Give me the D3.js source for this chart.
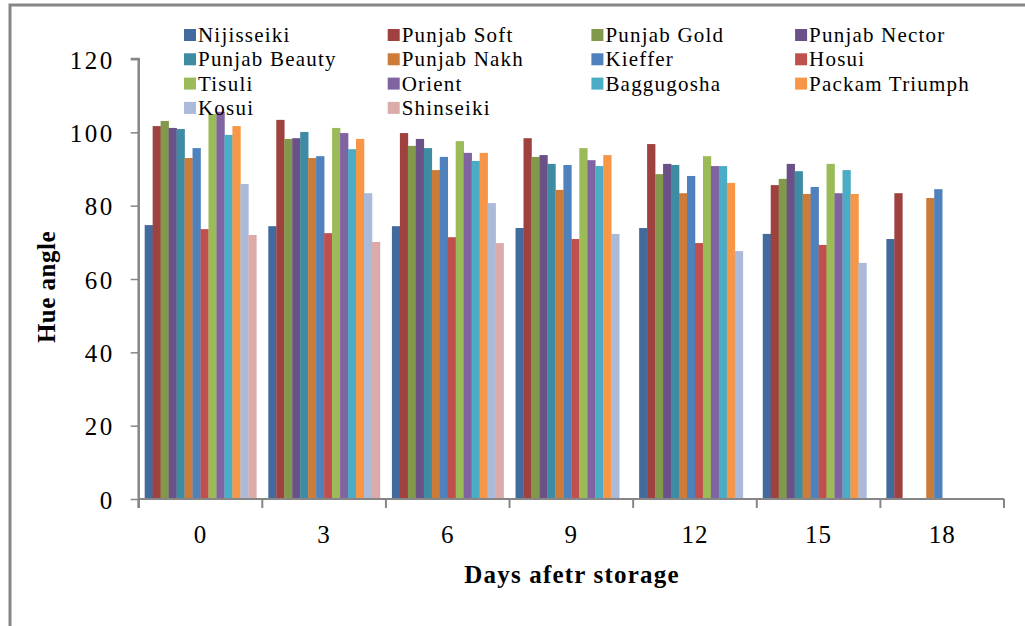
<!DOCTYPE html>
<html>
<head>
<meta charset="utf-8">
<script src="https://cdn.jsdelivr.net/npm/d3@7"></script>
<style>
  body { margin: 0; background: #fff; }
  text { font-family: "Liberation Serif", "Times New Roman", serif; fill: #000; }
</style>
</head>
<body>
<div id="chart"></div>
<script>
// days after storage
var days = ["0", "3", "6", "9", "12", "15", "18"];
var yTicks = [0, 20, 40, 60, 80, 100, 120];

// hue angle per cultivar, null = no bar
var nijisseiki    = [74.7, 74.4, 74.4, 73.9, 73.9, 72.3, 70.9];
var punjabSoft    = [101.7, 103.4, 99.8, 98.4, 96.8, 85.6, 83.4];
var punjabGold    = [103.1, 98.2, 96.3, 93.3, 88.6, 87.3, null];
var punjabNector  = [101.2, 98.4, 98.2, 93.8, 91.4, 91.4, null];
var punjabBeauty  = [100.9, 100.1, 95.7, 91.4, 91.1, 89.4, null];
var punjabNakh    = [93.0, 93.0, 89.7, 84.3, 83.4, 83.2, 82.1];
var kieffer       = [95.7, 93.5, 93.3, 91.1, 88.1, 85.1, 84.5];
var hosui         = [73.6, 72.5, 71.4, 70.9, 69.8, 69.3, null];
var tisuli        = [105.0, 101.2, 97.6, 95.7, 93.5, 91.4, null];
var orient        = [105.6, 99.8, 94.4, 92.4, 90.8, 83.4, null];
var baggugosha    = [99.3, 95.4, 92.2, 90.8, 90.8, 89.7, null];
var packamTriumph = [101.7, 98.2, 94.4, 93.8, 86.2, 83.2, null];
var kosui         = [85.9, 83.4, 80.7, 72.3, 67.6, 64.4, null];
var shinseiki     = [72.0, 70.1, 69.8, null, null, null, null];

var names = ["Nijisseiki", "Punjab Soft", "Punjab Gold", "Punjab Nector",
  "Punjab Beauty", "Punjab Nakh", "Kieffer", "Hosui",
  "Tisuli", "Orient", "Baggugosha", "Packam Triumph",
  "Kosui", "Shinseiki"];
var values = [nijisseiki, punjabSoft, punjabGold, punjabNector,
  punjabBeauty, punjabNakh, kieffer, hosui,
  tisuli, orient, baggugosha, packamTriumph,
  kosui, shinseiki];
var colors = ["#426a9d", "#9f413f", "#82994b", "#6a5187",
  "#3e8ca3", "#cd7b38", "#4f81bd", "#c0504d",
  "#9bbb59", "#8064a2", "#4bacc6", "#f79646",
  "#aabad8", "#dbabaa"];

var W = 1025, H = 626;
var svg = d3.select("#chart").append("svg")
  .attr("width", W)
  .attr("height", H);

// outer frame (runs off right and bottom)
svg.append("rect")
  .attr("x", 10).attr("y", 5)
  .attr("width", W + 20).attr("height", H + 20)
  .attr("fill", "none")
  .attr("stroke", "#868686")
  .attr("stroke-width", 3);

var x0 = d3.scaleBand()
  .domain(days)
  .range([138.7, 1004])
  .paddingInner(1.5 / 15.5)
  .paddingOuter(0.75 / 15.5);

var x1 = d3.scaleBand()
  .domain(d3.range(names.length))
  .range([0, x0.bandwidth()]);

var y = d3.scaleLinear()
  .domain([0, 120])
  .range([499, 59]);

var step = x0.step();

// bars
var groups = svg.append("g").attr("class", "bars")
  .selectAll("g")
  .data(days)
  .enter().append("g")
  .attr("transform", function(d) { return "translate(" + x0(d) + ",0)"; });

groups.selectAll("rect")
  .data(function(d, i) {
    return values.map(function(s, k) { return { k: k, v: s[i] }; })
      .filter(function(e) { return e.v != null; });
  })
  .enter().append("rect")
  .attr("x", function(d) { return x1(d.k); })
  .attr("y", function(d) { return y(d.v); })
  .attr("width", x1.bandwidth() + 0.3)
  .attr("height", function(d) { return y(0) - y(d.v); })
  .attr("fill", function(d) { return colors[d.k]; });

// y axis
var yAxis = svg.append("g")
  .attr("transform", "translate(138.7,0)")
  .call(d3.axisLeft(y).tickValues(yTicks).tickSize(8).tickPadding(16));
yAxis.select(".domain").attr("stroke", "#868686").attr("stroke-width", 2.5)
  .attr("d", "M-8,59H0V508");
yAxis.selectAll(".tick line").attr("stroke", "#868686").attr("stroke-width", 1.5);
yAxis.selectAll(".tick text")
  .attr("fill", "#000")
  .attr("dy", "0.36em")
  .style("font-size", "25px")
  .style("letter-spacing", "2.5px")
  .style("font-family", "'Liberation Serif', serif");

// x axis with boundary ticks
var xAxis = svg.append("g")
  .attr("transform", "translate(0,499)");
xAxis.append("line")
  .attr("x1", 138.7).attr("x2", 1004)
  .attr("stroke", "#868686").attr("stroke-width", 2);
xAxis.selectAll(".sep")
  .data(d3.range(days.length + 1))
  .enter().append("line")
  .attr("class", "sep")
  .attr("x1", function(i) { return 138.7 + i * step; })
  .attr("x2", function(i) { return 138.7 + i * step; })
  .attr("y1", 0).attr("y2", 9)
  .attr("stroke", "#868686").attr("stroke-width", 2);
xAxis.selectAll(".lab")
  .data(days)
  .enter().append("text")
  .attr("class", "lab")
  .attr("x", function(d) { return x0(d) + x0.bandwidth() / 2; })
  .attr("y", 44)
  .attr("text-anchor", "middle")
  .style("font-size", "25px")
  .style("letter-spacing", "1px")
  .text(function(d) { return d; });

// axis titles
svg.append("text")
  .attr("x", 572).attr("y", 583)
  .attr("text-anchor", "middle")
  .style("font-size", "25px")
  .style("font-weight", "bold")
  .style("letter-spacing", "1.2px")
  .text("Days afetr storage");

svg.append("text")
  .attr("transform", "translate(55,287) rotate(-90)")
  .attr("text-anchor", "middle")
  .style("font-size", "25px")
  .style("font-weight", "bold")
  .style("letter-spacing", "0.5px")
  .text("Hue angle");

// legend, 4 columns
var legend = svg.append("g").attr("class", "legend")
  .selectAll("g")
  .data(names)
  .enter().append("g")
  .attr("transform", function(d, i) {
    return "translate(" + (184 + (i % 4) * 203.7) + "," + (35 + Math.floor(i / 4) * 24.3) + ")";
  });
legend.append("rect")
  .attr("x", 0).attr("y", -6)
  .attr("width", 12).attr("height", 12)
  .attr("fill", function(d, i) { return colors[i]; });
legend.append("text")
  .attr("x", 14).attr("y", 7)
  .style("font-size", "21px")
  .style("letter-spacing", "1.2px")
  .text(function(d) { return d; });
</script>
</body>
</html>
